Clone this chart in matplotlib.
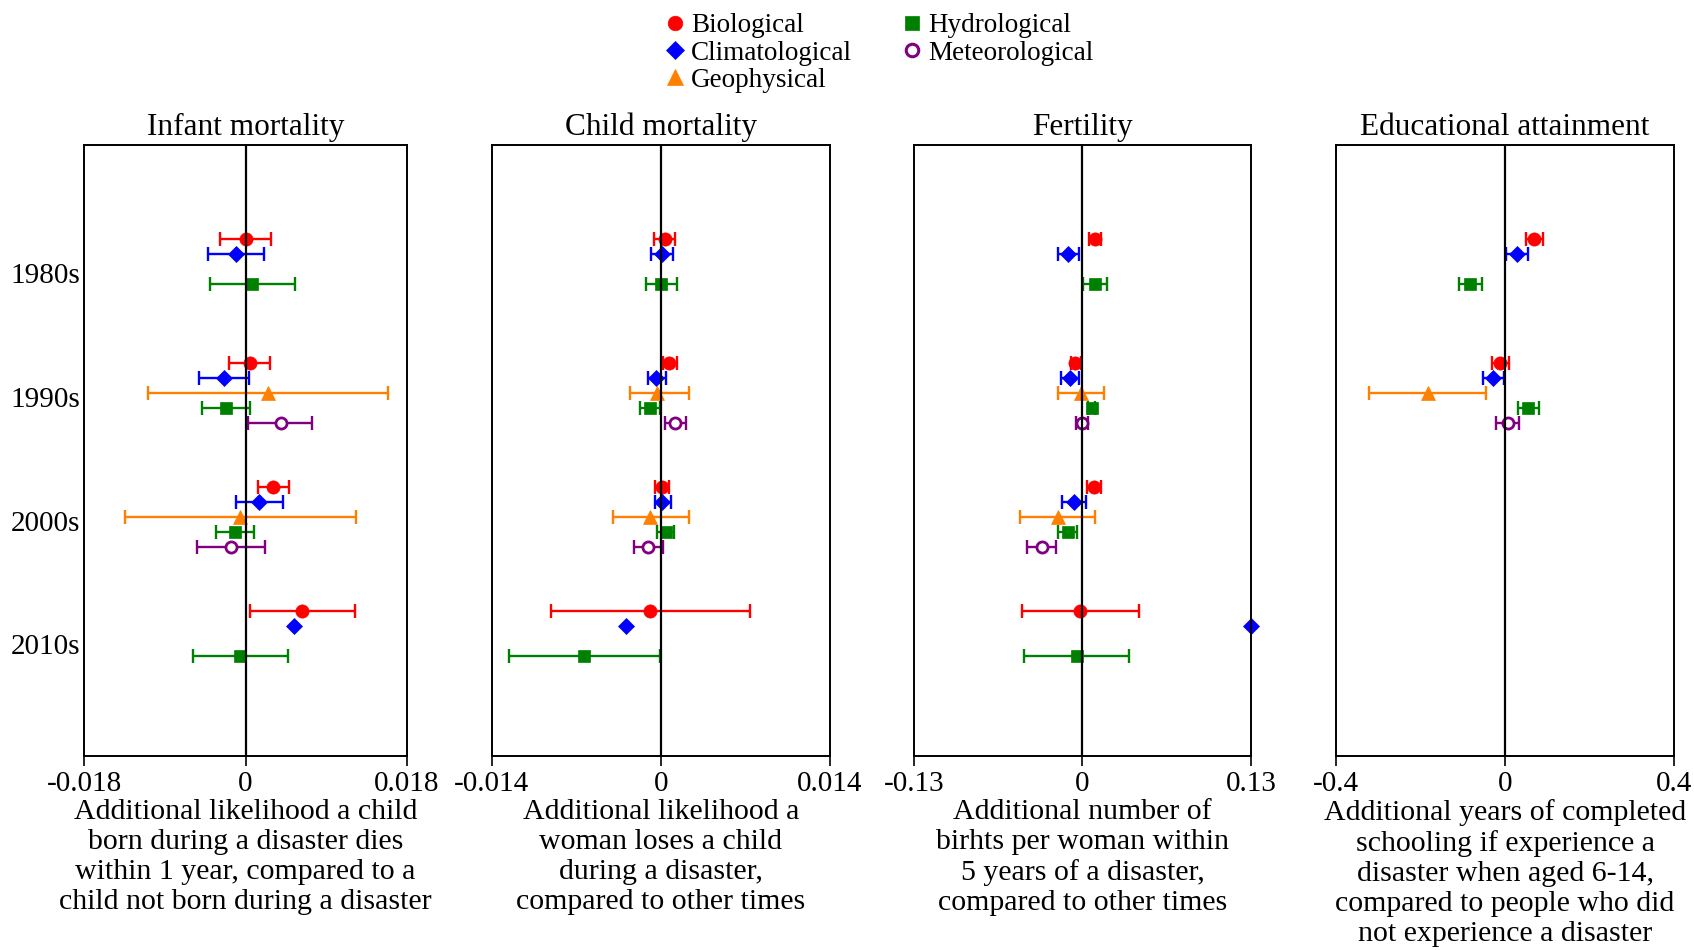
import numpy as np
import matplotlib
matplotlib.use("Agg")
import matplotlib.pyplot as plt
from matplotlib.lines import Line2D

nan = np.nan

decades = ["1980s", "1990s", "2000s", "2010s"]
categories = ["Biological", "Climatological", "Geophysical", "Hydrological", "Meteorological"]
colors = ["#ff0000", "#0000ff", "#ff8000", "#008000", "#800080"]

titles = ["Infant mortality", "Child mortality", "Fertility", "Educational attainment"]
xlabels = [
    "Additional likelihood a child\nborn during a disaster dies\nwithin 1 year, compared to a\nchild not born during a disaster",
    "Additional likelihood a\nwoman loses a child\nduring a disaster,\ncompared to other times",
    "Additional number of\nbirhts per woman within\n5 years of a disaster,\ncompared to other times",
    "Additional years of completed\nschooling if experience a\ndisaster when aged 6-14,\ncompared to people who did\nnot experience a disaster",
]
xlimits = [0.018, 0.014, 0.13, 0.4]
xticklabels = [["-0.018", "0", "0.018"], ["-0.014", "0", "0.014"],
               ["-0.13", "0", "0.13"], ["-0.4", "0", "0.4"]]

# rows = categories, columns = decades (nan = not estimated / no interval)
infant_est = [[0.0, 0.0005, 0.0031, 0.0063],
              [-0.0011, -0.0024, 0.0015, 0.0054],
              [nan, 0.0025, -0.0006, nan],
              [0.0007, -0.0022, -0.0012, -0.0006],
              [nan, 0.0039, -0.0016, nan]]
infant_lo = [[-0.0028, -0.0018, 0.0014, 0.0005],
             [-0.0042, -0.0052, -0.0011, nan],
             [nan, -0.0109, -0.0134, nan],
             [-0.0040, -0.0049, -0.0033, -0.0059],
             [nan, 0.0003, -0.0054, nan]]
infant_hi = [[0.0028, 0.0027, 0.0048, 0.0122],
             [0.0021, 0.0004, 0.0042, nan],
             [nan, 0.0159, 0.0123, nan],
             [0.0055, 0.0005, 0.0009, 0.0047],
             [nan, 0.0074, 0.0022, nan]]

child_est = [[0.0003, 0.0007, 0.0001, -0.0009],
             [0.0001, -0.0004, 0.0001, -0.0029],
             [nan, -0.0003, -0.0009, nan],
             [0.0, -0.0009, 0.0004, -0.0064],
             [nan, 0.0012, -0.0011, nan]]
child_lo = [[-0.0006, 0.0002, -0.0005, -0.0091],
            [-0.0008, -0.0011, -0.0005, nan],
            [nan, -0.0026, -0.0040, nan],
            [-0.0012, -0.0017, -0.0003, -0.0126],
            [nan, 0.0003, -0.0022, nan]]
child_hi = [[0.0012, 0.0013, 0.0007, 0.0074],
            [0.0010, 0.0004, 0.0008, nan],
            [nan, 0.0023, 0.0023, nan],
            [0.0013, -0.0001, 0.0011, -0.0001],
            [nan, 0.0021, 0.0002, nan]]

fert_est = [[0.0095, -0.0054, 0.0087, -0.0021],
            [-0.0108, -0.0097, -0.0064, 0.13],
            [nan, -0.0015, -0.0192, nan],
            [0.0095, 0.0072, -0.0115, -0.0046],
            [nan, -0.0005, -0.0315, nan]]
fert_lo = [[0.0049, -0.0092, 0.0036, -0.0469],
           [-0.0187, -0.0164, -0.0156, nan],
           [nan, -0.0192, -0.0482, nan],
           [0.0005, 0.0045, -0.0187, -0.0451],
           [nan, -0.0051, -0.0426, nan]]
fert_hi = [[0.0141, -0.0010, 0.0141, 0.0433],
           [-0.0028, -0.0028, 0.0028, nan],
           [nan, 0.0169, 0.0100, nan],
           [0.0190, 0.0099, -0.0041, 0.0362],
           [nan, 0.0046, -0.0205, nan]]

edu_est = [[0.069, -0.011, nan, nan],
           [0.029, -0.029, nan, nan],
           [nan, -0.183, nan, nan],
           [-0.083, 0.055, nan, nan],
           [nan, 0.006, nan, nan]]
edu_lo = [[0.050, -0.031, nan, nan],
          [0.002, -0.052, nan, nan],
          [nan, -0.322, nan, nan],
          [-0.110, 0.031, nan, nan],
          [nan, -0.022, nan, nan]]
edu_hi = [[0.089, 0.010, nan, nan],
          [0.054, -0.003, nan, nan],
          [nan, -0.044, nan, nan],
          [-0.055, 0.081, nan, nan],
          [nan, 0.033, nan, nan]]

panels = [(infant_est, infant_lo, infant_hi), (child_est, child_lo, child_hi),
          (fert_est, fert_lo, fert_hi), (edu_est, edu_lo, edu_hi)]

markers = ["o", "D", "^", "s", "o"]
msizes = [9.5, 8.5, 10.5, 9, 8]

plt.rcParams["font.family"] = ["Liberation Serif", "DejaVu Serif"]
plt.rcParams["font.size"] = 21
plt.rcParams["axes.unicode_minus"] = False

fig = plt.figure(figsize=(16.94, 9.5), dpi=100)
lefts = [0.0496, 0.2904, 0.5395, 0.7887]
widths = [0.1907, 0.1995, 0.1990, 0.1995]
step = 0.122

for p, (est, lo, hi) in enumerate(panels):
    ax = fig.add_axes([lefts[p], 0.2042, widths[p], 0.643])
    for c in range(len(categories)):
        for d in range(len(decades)):
            x = est[c][d]
            if np.isnan(x):
                continue
            y = d + (c - 2) * step
            mfc = "white" if c == 4 else colors[c]
            if not np.isnan(lo[c][d]):
                ax.errorbar(x, y, xerr=[[x - lo[c][d]], [hi[c][d] - x]], fmt="none",
                            ecolor=colors[c], elinewidth=1.7, capsize=5, capthick=1.7, zorder=2)
            ax.plot(x, y, marker=markers[c], ms=msizes[c], color=colors[c], mfc=mfc,
                    mec=colors[c], mew=2.0 if c == 4 else 0.5, ls="none", zorder=3, clip_on=False)
    ax.axvline(0, color="black", lw=1.6, zorder=4)
    lim = xlimits[p]
    ax.set_xlim(-lim, lim)
    ax.set_ylim(3.93, -1.0)
    ax.set_xticks([-lim, 0, lim])
    ax.set_xticklabels(xticklabels[p])
    ax.tick_params(axis="x", direction="out", length=7, width=1.2, pad=4)
    if p == 0:
        ax.set_yticks(np.arange(len(decades)) + 0.03)
        ax.set_yticklabels(decades)
        ax.tick_params(axis="y", length=0, pad=3)
    else:
        ax.set_yticks([])
    for s in ax.spines.values():
        s.set_linewidth(1.4)
        s.set_zorder(5)
    ax.set_title(titles[p], pad=7, fontsize=22.5)
    ax.set_xlabel(xlabels[p], linespacing=1.2, labelpad=1, fontsize=21.5)

handles = [Line2D([], [], marker=markers[c], ls="none", color=colors[c], ms=msizes[c] + 1,
                  mfc="white" if c == 4 else colors[c], mec=colors[c], mew=2.2 if c == 4 else 0.5)
           for c in range(len(categories))]
fig.legend(handles, categories, loc="upper center", bbox_to_anchor=(0.518, 1.003), ncol=2,
           frameon=False, handletextpad=0.1, columnspacing=1.7, labelspacing=0.08,
           handlelength=1.0, fontsize=19.5, borderaxespad=0.2)

fig.savefig("out.png", dpi=100)
